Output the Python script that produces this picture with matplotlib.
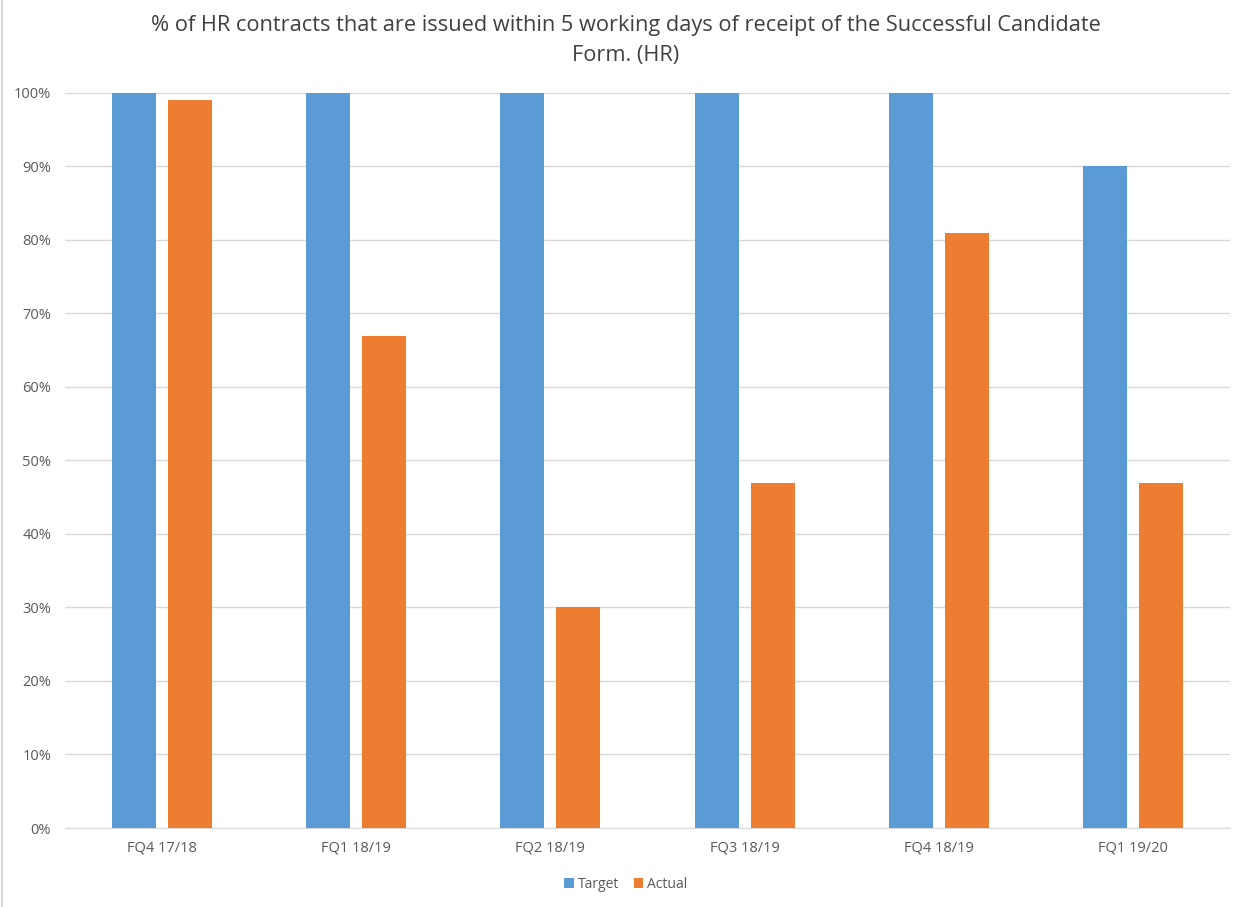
import matplotlib
matplotlib.use('Agg')
import matplotlib.pyplot as plt
from matplotlib.ticker import PercentFormatter
import numpy as np

plt.rcParams['font.family'] = ['Open Sans', 'DejaVu Sans']

# data
quarters = ['FQ4 17/18', 'FQ1 18/19', 'FQ2 18/19', 'FQ3 18/19', 'FQ4 18/19', 'FQ1 19/20']
target = [100, 100, 100, 100, 100, 90]
actual = [99, 67, 30, 47, 81, 47]

blue = '#5B9BD5'
orange = '#ED7D31'

fig = plt.figure(figsize=(12.47, 9.07), dpi=100)
ax = fig.add_axes([0.0521, 0.0871, 0.9343, 0.8104])

x = np.arange(len(quarters))
w = 0.227
ax.bar(x - 0.144, target, w, color=blue, label='Target', zorder=3)
ax.bar(x + 0.144, actual, w, color=orange, label='Actual', zorder=3)

ax.set_xlim(-0.5, len(quarters) - 0.5)
ax.set_ylim(0, 100)
ax.set_yticks(np.arange(0, 101, 10))
ax.yaxis.set_major_formatter(PercentFormatter(decimals=0))
ax.set_xticks(x)
ax.set_xticklabels(quarters)
ax.tick_params(axis='both', length=0, labelsize=10.5, colors='#595959')
ax.tick_params(axis='x', pad=9)
ax.tick_params(axis='y', pad=10)
ax.grid(axis='y', color='#D9D9D9', linewidth=1, zorder=0)
for s in ['top', 'right', 'left']:
    ax.spines[s].set_visible(False)
ax.spines['bottom'].set_color('#D9D9D9')

fig.text(0.502, 0.984, '% of HR contracts that are issued within 5 working days of receipt of the Successful Candidate\nForm. (HR)',
         ha='center', va='top', fontsize=15.7, color='#404040', linespacing=1.6)

fig.legend(loc='center', bbox_to_anchor=(0.502, 0.025), ncol=2, frameon=False,
           fontsize=10, handlelength=0.7, handleheight=0.7, handletextpad=0.3,
           columnspacing=1.0, labelcolor='#595959')

# chart border at left edge
fig.add_artist(plt.Line2D([0.002, 0.002], [0, 1], color='#D9D9D9', linewidth=1.5, transform=fig.transFigure))

fig.savefig('out.png', dpi=100)
